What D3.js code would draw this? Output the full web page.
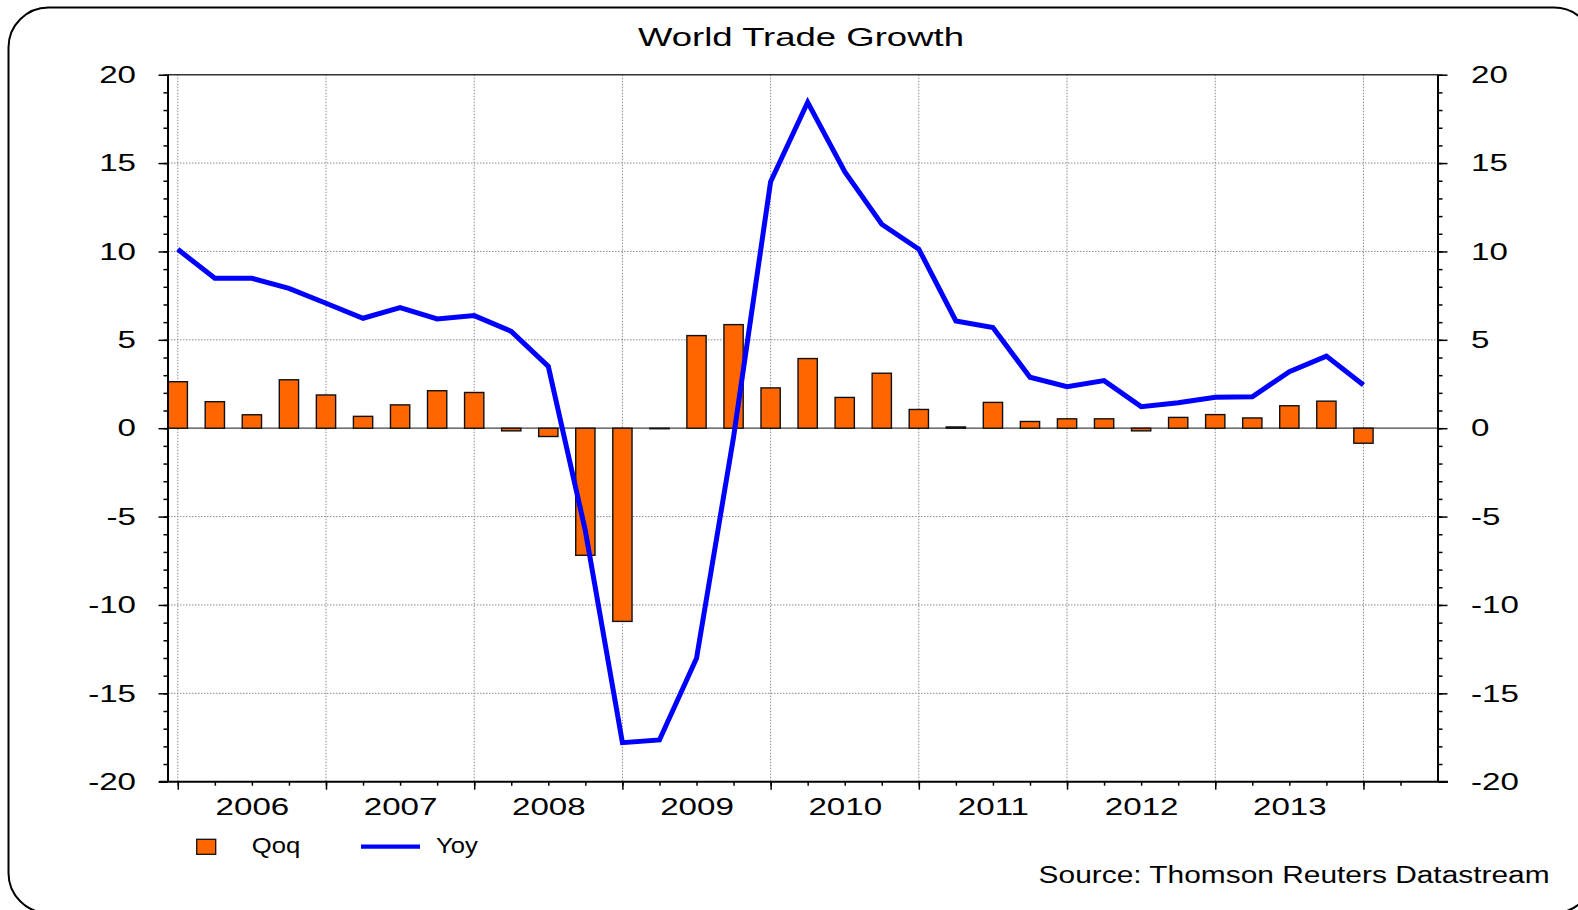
<!DOCTYPE html>
<html><head><meta charset="utf-8">
<script src="https://cdn.jsdelivr.net/npm/d3@7"></script>
<style>html,body{margin:0;padding:0;background:#fff;} svg{display:block}</style>
</head><body>
<svg id="c" width="1578" height="910"></svg>
<script>
const quarters = ["2005 Q4",
  "2006 Q1","2006 Q2","2006 Q3","2006 Q4",
  "2007 Q1","2007 Q2","2007 Q3","2007 Q4",
  "2008 Q1","2008 Q2","2008 Q3","2008 Q4",
  "2009 Q1","2009 Q2","2009 Q3","2009 Q4",
  "2010 Q1","2010 Q2","2010 Q3","2010 Q4",
  "2011 Q1","2011 Q2","2011 Q3","2011 Q4",
  "2012 Q1","2012 Q2","2012 Q3","2012 Q4",
  "2013 Q1","2013 Q2","2013 Q3","2013 Q4"];
const qoq = [2.63, 1.50, 0.76, 2.74, 1.88, 0.67, 1.32, 2.12, 2.02, -0.15, -0.47, -7.19, -10.93,
  -0.03, 5.24, 5.86, 2.28, 3.94, 1.74, 3.11, 1.06, 0.07, 1.46, 0.38, 0.53, 0.53, -0.15,
  0.61, 0.77, 0.58, 1.27, 1.53, -0.85];
const yoy = [10.12, 8.48, 8.48, 7.91, 7.07, 6.22, 6.82, 6.18, 6.37, 5.48, 3.50, -5.80, -17.79,
  -17.64, -13.02, -0.50, 13.95, 18.44, 14.51, 11.54, 10.13, 6.07, 5.69, 2.88, 2.35, 2.69, 1.22,
  1.44, 1.75, 1.78, 3.20, 4.08, 2.44];
const yTickValues = [20, 15, 10, 5, 0, -5, -10, -15, -20];
const yearLabels = ["2006","2007","2008","2009","2010","2011","2012","2013"];
const seriesNames = ["Qoq", "Yoy"];
const titleText = "World Trade Growth";
const sourceText = "Source: Thomson Reuters Datastream";

const FONT = "'Liberation Sans', Arial, Helvetica, sans-serif";
const ORANGE = "#FF6600", BLUE = "#0000FF";
const svg = d3.select("#c");

function qPos(q) { const p = q.split(" Q"); return +p[0] + (+p[1]) / 4; }
function stretch(sel, f) {
  sel.each(function() {
    const w = this.getComputedTextLength();
    d3.select(this).attr("textLength", w * f).attr("lengthAdjust", "spacingAndGlyphs");
  });
}

const L = 168, R = 1438, T = 74.7, B = 781.7;
const x = d3.scaleLinear().domain([2005.934, 2014.503]).range([L, R]);
const y = d3.scaleLinear().domain([-20, 20]).range([B, T]);

// frame
svg.append("rect").attr("x", 8.5).attr("y", 7.5).attr("width", 1585.5).attr("height", 905.5)
  .attr("rx", 40).attr("ry", 40).attr("fill", "none").attr("stroke", "#000").attr("stroke-width", 2);

// title
svg.append("text").attr("x", 801).attr("y", 45.5).attr("text-anchor", "middle")
  .attr("font-family", FONT).attr("font-size", 25.5).attr("fill", "#000").text(titleText)
  .attr("textLength", 326).attr("lengthAdjust", "spacingAndGlyphs");

// grid
const years = d3.range(2006, 2015);
svg.append("g").selectAll("line").data(years).join("line")
  .attr("x1", d => x(d)).attr("x2", d => x(d)).attr("y1", T).attr("y2", B)
  .attr("stroke", "#8a8a8a").attr("stroke-width", 1).attr("stroke-dasharray", "1.5,1.5");
svg.append("g").selectAll("line").data(yTickValues.filter(v => v !== 0 && Math.abs(v) < 20)).join("line")
  .attr("x1", L).attr("x2", R).attr("y1", d => y(d)).attr("y2", d => y(d))
  .attr("stroke", "#8a8a8a").attr("stroke-width", 1).attr("stroke-dasharray", "1.5,1.5");

// zero line
svg.append("line").attr("x1", L).attr("x2", R).attr("y1", y(0)).attr("y2", y(0))
  .attr("stroke", "#444").attr("stroke-width", 1.3);

// bars
const bw = (x(2006.25) - x(2006)) * 0.52;
svg.append("g").selectAll("rect").data(quarters).join("rect")
  .attr("x", (d, i) => x(qPos(d)) - bw / 2)
  .attr("width", bw)
  .attr("y", (d, i) => y(Math.max(0, qoq[i])))
  .attr("height", (d, i) => Math.abs(y(qoq[i]) - y(0)))
  .attr("fill", ORANGE).attr("stroke", "#111").attr("stroke-width", 1.4);

// line
const line = d3.line().x((d, i) => x(qPos(quarters[i]))).y(d => y(d));
svg.append("path").datum(yoy).attr("d", line).attr("fill", "none")
  .attr("stroke", BLUE).attr("stroke-width", 5).attr("stroke-linejoin", "miter");

// top border
svg.append("line").attr("x1", L).attr("x2", R).attr("y1", T).attr("y2", T)
  .attr("stroke", "#333").attr("stroke-width", 1.5);

// axes
function styleAxis(g) {
  g.select(".domain").remove();
  g.selectAll(".tick line").attr("stroke", "#000").attr("stroke-width", 1.5);
  g.selectAll("text").attr("font-family", FONT).attr("font-size", 24).attr("fill", "#000");
}
const fmt = d => String(d);
const minorY = d3.range(-20, 21, 1);
svg.append("g").attr("transform", `translate(${L},0)`)
  .call(d3.axisLeft(y).tickValues(minorY).tickSize(4.5).tickSizeOuter(0).tickFormat(""))
  .call(styleAxis);
const gl = svg.append("g").attr("transform", `translate(${L},0)`)
  .call(d3.axisLeft(y).tickValues(yTickValues).tickSize(9.5).tickPadding(22.5).tickSizeOuter(0).tickFormat(fmt))
  .call(styleAxis);
stretch(gl.selectAll("text"), 1.38);
svg.append("g").attr("transform", `translate(${R},0)`)
  .call(d3.axisRight(y).tickValues(minorY).tickSize(4.5).tickSizeOuter(0).tickFormat(""))
  .call(styleAxis);
const gr = svg.append("g").attr("transform", `translate(${R},0)`)
  .call(d3.axisRight(y).tickValues(yTickValues).tickSize(9.5).tickPadding(23.5).tickSizeOuter(0).tickFormat(fmt))
  .call(styleAxis);
stretch(gr.selectAll("text"), 1.38);

// vertical axis lines
svg.append("line").attr("x1", L).attr("x2", L).attr("y1", T).attr("y2", B).attr("stroke", "#000").attr("stroke-width", 2);
svg.append("line").attr("x1", R).attr("x2", R).attr("y1", T).attr("y2", B).attr("stroke", "#000").attr("stroke-width", 2);

// bottom axis
svg.append("g").attr("transform", `translate(0,${B})`)
  .call(d3.axisBottom(x).tickValues(d3.range(2006, 2014.5, 0.25)).tickSize(4).tickSizeOuter(0).tickFormat(""))
  .call(styleAxis);
svg.append("g").attr("transform", `translate(0,${B})`)
  .call(d3.axisBottom(x).tickValues(years).tickSize(8).tickSizeOuter(0).tickFormat(""))
  .call(styleAxis);
const gx = svg.append("g").attr("transform", `translate(0,${B})`)
  .call(d3.axisBottom(x).tickValues(yearLabels.map(s => +s + 0.5)).tickSize(0).tickPadding(16.5).tickSizeOuter(0)
    .tickFormat((d, i) => yearLabels[i]))
  .call(styleAxis);
stretch(gx.selectAll("text"), 1.38);
svg.append("line").attr("x1", 159).attr("x2", 1448).attr("y1", B).attr("y2", B).attr("stroke", "#000").attr("stroke-width", 2);

// legend
const lg = svg.append("g").attr("font-family", FONT).attr("font-size", 22.5).attr("fill", "#000");
lg.append("rect").attr("x", 196.7).attr("y", 839.3).attr("width", 19).attr("height", 15)
  .attr("fill", ORANGE).attr("stroke", "#111").attr("stroke-width", 1.3);
const t1 = lg.append("text").attr("x", 251.7).attr("y", 852.5).text(seriesNames[0]);
stretch(t1, 1.14);
lg.append("line").attr("x1", 361).attr("x2", 420).attr("y1", 846.7).attr("y2", 846.7)
  .attr("stroke", BLUE).attr("stroke-width", 4.3);
const t2 = lg.append("text").attr("x", 436).attr("y", 852.5).text(seriesNames[1]);
stretch(t2, 1.14);

// source
svg.append("text").attr("x", 1038.6).attr("y", 882.7)
  .attr("font-family", FONT).attr("font-size", 23).attr("fill", "#000").text(sourceText)
  .attr("textLength", 511).attr("lengthAdjust", "spacingAndGlyphs");
</script>
</body></html>
